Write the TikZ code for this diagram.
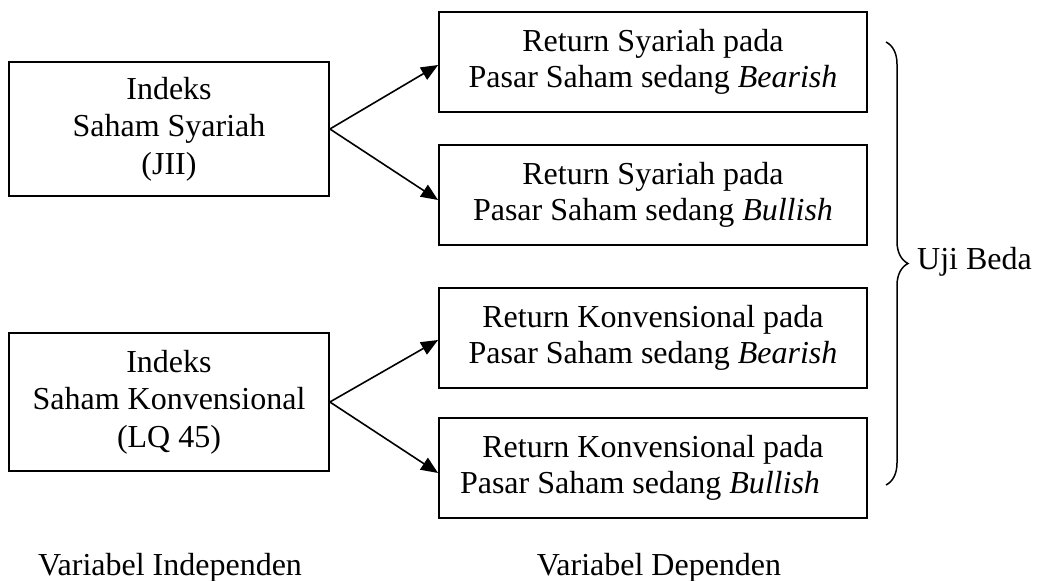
\documentclass[tikz,border=0pt]{standalone}
\usepackage{fontspec}
\setmainfont{Liberation Serif}
\usetikzlibrary{arrows.meta,decorations.pathreplacing}
\tikzset{
  box/.style={draw, line width=1.8pt, rectangle, inner sep=0pt, align=center, font=\fontsize{32}{37.5}\selectfont},
  lbox/.style={box, minimum width=320pt, minimum height=134pt},
  rbox/.style={box, minimum width=428pt, minimum height=100pt, font=\fontsize{32}{35.5}\selectfont},
  arr/.style={line width=1.6pt, -{Triangle[length=17pt,width=14pt]}},
  lbl/.style={font=\fontsize{32}{36}\selectfont, inner sep=0pt, anchor=base}
}
\begin{document}
\begin{tikzpicture}[x=1pt,y=-1pt]
\useasboundingbox (0,0) rectangle (1047,581);
\node[lbox] (L1) at (169,129) {Indeks\\Saham Syariah\\(JII)};
\node[lbox, minimum height=138pt] (L2) at (169,402) {Indeks\\Saham Konvensional\\(LQ 45)};
\node[rbox] (R1) at (653,62) {Return Syariah pada\\Pasar Saham sedang \textit{Bearish}};
\node[rbox] (R2) at (653,195) {Return Syariah pada\\Pasar Saham sedang \textit{Bullish}};
\node[rbox] (R3) at (653,338) {Return Konvensional pada\\Pasar Saham sedang \textit{Bearish}};
\node[rbox] (R4) at (653,468) {Return Konvensional pada\\Pasar Saham sedang \textit{Bullish}\hspace*{26pt}};
\draw[arr] (L1.east) -- ([yshift=-3pt]R1.west);
\draw[arr] (L1.east) -- ([yshift=-5pt]R2.west);
\draw[arr] (L2.east) -- ([yshift=-2pt]R3.west);
\draw[arr] (L2.east) -- ([yshift=-5pt]R4.west);
\coordinate (btop) at (886,42);
\coordinate (bbot) at (886,485);
\draw[line width=1.5pt, decoration={brace, amplitude=22pt}, decorate] (btop) -- (bbot);
\node[font=\fontsize{32}{36}\selectfont, inner sep=0pt, anchor=west] (uji) at (917,262) {Uji Beda};
\node[lbl] (vi) at (170,575) {Variabel Independen};
\node[lbl] (vd) at (659,575) {Variabel Dependen};
\end{tikzpicture}
\end{document}
